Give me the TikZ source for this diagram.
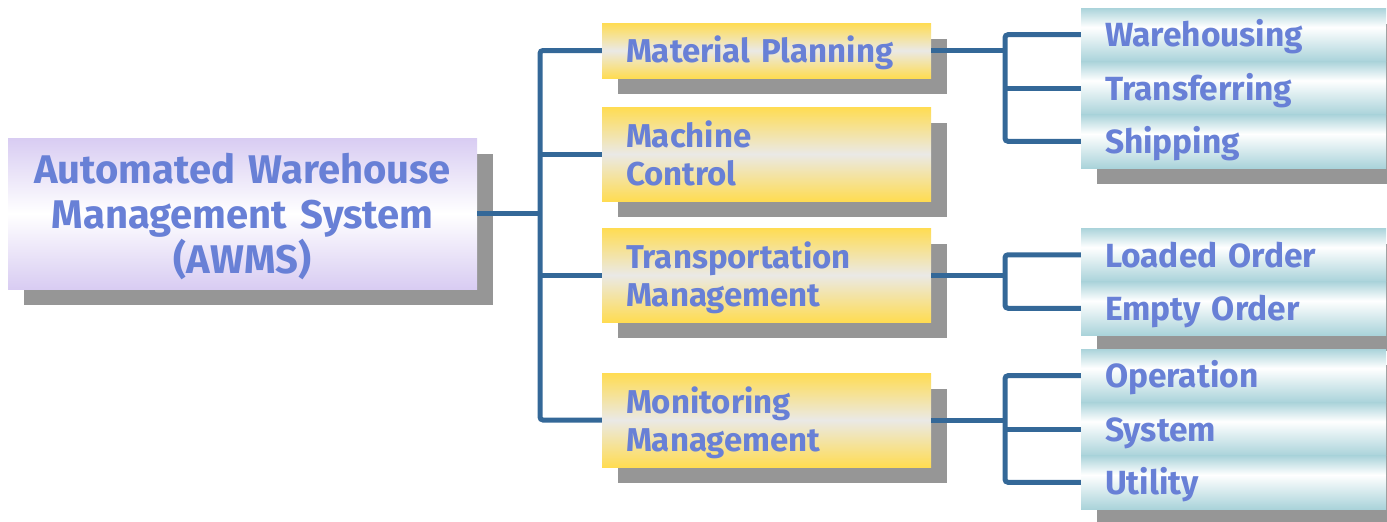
\documentclass[tikz,border=0pt]{standalone}
\usepackage{fontspec}
\setmainfont{Fira Sans}
\usetikzlibrary{fit,backgrounds,shadows}

\definecolor{txtblue}{RGB}{104,128,214}
\definecolor{linkblue}{RGB}{52,104,152}
\definecolor{shadowgray}{RGB}{150,150,150}
\definecolor{boxyellow}{RGB}{255,220,82}
\definecolor{boxgrey}{RGB}{234,233,230}
\definecolor{boxlilac}{RGB}{216,204,242}
\definecolor{rowteal}{RGB}{170,211,218}

\pgfdeclareverticalshading{rowshade}{100bp}{color(0bp)=(rowteal); color(25bp)=(rowteal); color(57bp)=(white); color(75bp)=(rowteal); color(100bp)=(rowteal)}

\begin{document}
\begin{tikzpicture}[x=1pt,y=-1pt,
  boxshadow/.style={drop shadow={shadow xshift=16pt,shadow yshift=-16pt,fill=shadowgray,opacity=1}},
  rootbox/.style={boxshadow,top color=boxlilac,bottom color=boxlilac,middle color=white,
    text width=469pt,minimum height=151pt,inner sep=0pt,align=center,
    text height=31pt,text depth=92pt,
    text=txtblue,font=\bfseries\fontsize{40}{45}\selectfont},
  midbox/.style={boxshadow,top color=boxyellow,bottom color=boxyellow,middle color=boxgrey,
    text width=281pt,inner xsep=24pt,inner ysep=0pt,align=left,
    text height=26pt,text depth=1.5pt,
    text=txtblue,font=\bfseries\fontsize{33}{38}\selectfont},
  twoline/.style={minimum height=94pt,text depth=39.5pt},
  rowbox/.style={shading=rowshade,text width=257pt,inner xsep=24pt,inner ysep=0pt,align=left,
    text height=26pt,text depth=1.5pt,
    text=txtblue,font=\bfseries\fontsize{33.5}{36}\selectfont},
  groupshadow/.style={fill=shadowgray,inner sep=0pt,xshift=16pt,yshift=-16pt},
  link/.style={draw=linkblue,line width=5pt,rounded corners=3pt}]
\useasboundingbox (0,0) rectangle (1387,522);

\node[rootbox] (awms) at (242.5,213.5) {Automated Warehouse\\Management System\\(AWMS)};

\node[midbox,minimum height=55pt] (plan) at (766.5,50.5) {Material Planning};
\node[midbox,twoline] (machine) at (766.5,154) {Machine\\Control};
\node[midbox,twoline] (transport) at (766.5,275) {Transportation\\Management};
\node[midbox,twoline] (monitor) at (766.5,420) {Monitoring\\Management};

\node[rowbox,minimum height=53.4pt] (wh) at (1233.5,34.7) {Warehousing};
\node[rowbox,minimum height=53.4pt] (tf) at (1233.5,88) {Transferring};
\node[rowbox,minimum height=53.4pt] (sh) at (1233.5,141.3) {Shipping};

\node[rowbox,minimum height=53.5pt] (lo) at (1233.5,254.75) {Loaded Order};
\node[rowbox,minimum height=53.5pt] (eo) at (1233.5,308.25) {Empty Order};

\node[rowbox,minimum height=53.4pt] (op) at (1233.5,375.7) {Operation};
\node[rowbox,minimum height=53.4pt] (sy) at (1233.5,429) {System};
\node[rowbox,minimum height=53.4pt] (ut) at (1233.5,482.3) {Utility};

\begin{scope}[on background layer]
\node[groupshadow,fit=(wh)(sh)] (whshadow) {};
\node[groupshadow,fit=(lo)(eo)] (loshadow) {};
\node[groupshadow,fit=(op)(ut)] (opshadow) {};
\end{scope}

\coordinate (trunk) at (540,0);
\coordinate (fork) at (1005,0);

\draw[link] (awms.east) -- (awms.east -| trunk);
\draw[link] (plan.west) -| (trunk |- monitor.west) -- (monitor.west);
\draw[link] (machine.west) -- (machine.west -| trunk);
\draw[link] (transport.west) -- (transport.west -| trunk);

\draw[link] (plan.east) -- (plan.east -| fork);
\draw[link] (wh.west) -| (fork |- sh.west) -- (sh.west);
\draw[link] (tf.west) -- (tf.west -| fork);

\draw[link] (transport.east) -- (transport.east -| fork);
\draw[link] (lo.west) -| (fork |- eo.west) -- (eo.west);

\draw[link] (monitor.east) -- (monitor.east -| fork);
\draw[link] (op.west) -| (fork |- ut.west) -- (ut.west);
\draw[link] (sy.west) -- (sy.west -| fork);
\end{tikzpicture}
\end{document}
